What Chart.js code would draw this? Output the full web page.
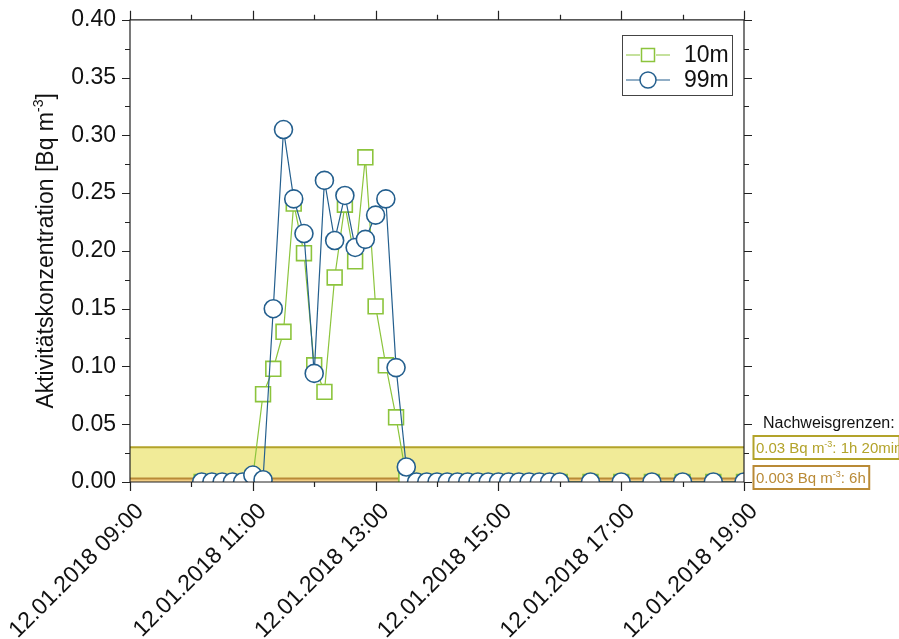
<!DOCTYPE html>
<html>
<head>
<meta charset="utf-8">
<script src="https://cdn.jsdelivr.net/npm/chart.js@4.4.1/dist/chart.umd.min.js"></script>
<style>
  html, body { margin: 0; padding: 0; background: #fff; }
</style>
</head>
<body>
<canvas id="chart" width="899" height="639"></canvas>
<script>
// measurement times on 12.01.2018, 10 min steps
const times = [
  '10:10', '10:20', '10:30', '10:40', '10:50',
  '11:00', '11:10', '11:20', '11:30', '11:40', '11:50',
  '12:00', '12:10', '12:20', '12:30', '12:40', '12:50',
  '13:00', '13:10', '13:20', '13:30', '13:40', '13:50',
  '14:00', '14:10', '14:20', '14:30', '14:40', '14:50',
  '15:00', '15:10', '15:20', '15:30', '15:40', '15:50',
  '16:00', '16:30', '17:00', '17:30', '18:00', '18:30', '19:00'
];
const conc10m = [
  0, 0, 0, 0, 0,
  0.004, 0.076, 0.098, 0.130, 0.241, 0.198,
  0.101, 0.078, 0.177, 0.240, 0.191, 0.281,
  0.152, 0.101, 0.056, 0.004, 0, 0,
  0, 0, 0, 0, 0, 0,
  0, 0, 0, 0, 0, 0,
  0, 0, 0, 0, 0, 0, 0
];
const conc99m = [
  0, 0, 0, 0, 0,
  0.006, 0.002, 0.150, 0.305, 0.245, 0.215,
  0.094, 0.261, 0.209, 0.248, 0.203, 0.210,
  0.231, 0.245, 0.099, 0.013, 0, 0,
  0, 0, 0, 0, 0, 0,
  0, 0, 0, 0, 0, 0,
  0, 0, 0, 0, 0, 0, 0
];
const seriesNames = ['10m', '99m'];
// detection limits (Nachweisgrenzen)
const limits = [0.03, 0.003];
const limitTexts = [['0.03 Bq m', '-3', ': 1h 20min'], ['0.003 Bq m', '-3', ': 6h']];

const FONT = '"Liberation Sans", Arial, sans-serif';
const GREEN = '#8cc43c';
const BLUE = '#245f8e';
const AXIS = '#222';

function toMin(t) {
  const [h, m] = t.split(':').map(Number);
  return (h - 9) * 60 + m;
}

// text with a small raised part: [base, sup, rest]
function drawSupText(ctx, parts, x, y, size) {
  ctx.font = size + 'px ' + FONT;
  ctx.fillText(parts[0], x, y);
  x += ctx.measureText(parts[0]).width;
  ctx.font = Math.round(size * 0.62) + 'px ' + FONT;
  ctx.fillText(parts[1], x, y - size * 0.42);
  x += ctx.measureText(parts[1]).width;
  ctx.font = size + 'px ' + FONT;
  ctx.fillText(parts[2], x, y);
}
function supTextWidth(ctx, parts, size) {
  ctx.font = size + 'px ' + FONT;
  let w = ctx.measureText(parts[0]).width + ctx.measureText(parts[2]).width;
  ctx.font = Math.round(size * 0.62) + 'px ' + FONT;
  return w + ctx.measureText(parts[1]).width;
}

const bandsPlugin = {
  id: 'bands',
  beforeDatasetsDraw(chart) {
    const {ctx, chartArea: a, scales: {y}} = chart;
    const fills = ['#f1eb98', '#f2cd84'];
    const strokes = ['#b3a32a', '#b98a36'];
    ctx.save();
    limits.forEach((v, i) => {
      const py = y.getPixelForValue(v);
      ctx.fillStyle = fills[i];
      ctx.fillRect(a.left, py, a.right - a.left, y.getPixelForValue(0) - py);
      ctx.strokeStyle = strokes[i];
      ctx.lineWidth = 2;
      ctx.beginPath();
      ctx.moveTo(a.left, py);
      ctx.lineTo(a.right, py);
      ctx.stroke();
    });
    ctx.restore();
  }
};

const framePlugin = {
  id: 'frame',
  afterDraw(chart) {
    const {ctx, chartArea: a, scales: {x, y}} = chart;
    ctx.save();
    ctx.strokeStyle = AXIS;
    ctx.lineWidth = 1.2;
    ctx.beginPath();
    ctx.rect(a.left, a.top, a.right - a.left, a.bottom - a.top);
    // y ticks every 0.025, left and right, outward
    for (let k = 0; k <= 16; k++) {
      const py = Math.round(y.getPixelForValue(k * 0.025)) + 0.5;
      const len = k % 2 === 0 ? 8 : 5;
      ctx.moveTo(a.left, py); ctx.lineTo(a.left - len, py);
      ctx.moveTo(a.right, py); ctx.lineTo(a.right + len, py);
    }
    // x ticks every hour, bottom and top, outward
    for (let k = 0; k <= 10; k++) {
      const px = Math.round(x.getPixelForValue(k * 60)) + 0.5;
      const len = k % 2 === 0 ? 9 : 5;
      ctx.moveTo(px, a.bottom); ctx.lineTo(px, a.bottom + len);
      ctx.moveTo(px, a.top); ctx.lineTo(px, a.top - len);
    }
    ctx.stroke();

    // y axis title
    ctx.fillStyle = '#111';
    ctx.textBaseline = 'alphabetic';
    const title = ['Aktivitätskonzentration [Bq m', '-3', ']'];
    const tw = supTextWidth(ctx, title, 23);
    ctx.translate(53, (a.top + a.bottom) / 2);
    ctx.rotate(-Math.PI / 2);
    drawSupText(ctx, title, -tw / 2, 0, 23);
    ctx.setTransform(1, 0, 0, 1, 0, 0);

    // legend
    ctx.strokeStyle = '#444';
    ctx.lineWidth = 1;
    ctx.strokeRect(622.5, 35.5, 110, 60);
    ctx.font = '23px ' + FONT;
    const rows = [[GREEN, 'rect', 55], [BLUE, 'circle', 80]];
    rows.forEach(([col, shape, ry], i) => {
      ctx.strokeStyle = col;
      ctx.lineWidth = 1.2;
      ctx.beginPath();
      ctx.moveTo(626, ry); ctx.lineTo(640, ry);
      ctx.moveTo(656, ry); ctx.lineTo(670, ry);
      ctx.stroke();
      ctx.lineWidth = 1.5;
      ctx.fillStyle = '#fff';
      ctx.beginPath();
      if (shape === 'rect') ctx.rect(641.5, ry - 6.5, 13, 13);
      else ctx.arc(648, ry, 8, 0, Math.PI * 2);
      ctx.fill(); ctx.stroke();
      ctx.fillStyle = '#111';
      ctx.textBaseline = 'middle';
      ctx.fillText(seriesNames[i], 684, ry + 1);
    });

    // detection limit labels
    ctx.textBaseline = 'alphabetic';
    ctx.font = '16px ' + FONT;
    ctx.fillStyle = '#111';
    ctx.fillText('Nachweisgrenzen:', 763, 428);
    const boxes = [[436, 459, '#b3a32a', '#b3a32a'], [466, 489, '#b98a36', '#b98a36']];
    boxes.forEach(([t, b, stroke, txt], i) => {
      const w = supTextWidth(ctx, limitTexts[i], 15);
      ctx.strokeStyle = stroke;
      ctx.lineWidth = 2;
      ctx.strokeRect(753.5, t, Math.min(w + 6, 146), b - t);
      ctx.fillStyle = txt;
      drawSupText(ctx, limitTexts[i], 756, b - 6, 15);
    });
    ctx.restore();
  }
};

const ctx = document.getElementById('chart').getContext('2d');
new Chart(ctx, {
  type: 'line',
  data: {
    datasets: [
      {
        label: seriesNames[0],
        data: times.map((t, i) => ({x: toMin(t), y: conc10m[i]})),
        borderColor: GREEN,
        borderWidth: 1.2,
        pointStyle: 'rect',
        pointRadius: 10.5,
        pointBorderWidth: 1.6,
        pointBackgroundColor: '#fff',
        pointBorderColor: GREEN,
        tension: 0,
        order: 2
      },
      {
        label: seriesNames[1],
        data: times.map((t, i) => ({x: toMin(t), y: conc99m[i]})),
        borderColor: BLUE,
        borderWidth: 1.2,
        pointStyle: 'circle',
        pointRadius: 9,
        pointBorderWidth: 1.6,
        pointBackgroundColor: '#fff',
        pointBorderColor: BLUE,
        tension: 0,
        order: 1
      }
    ]
  },
  options: {
    responsive: false,
    animation: false,
    devicePixelRatio: 1,
    layout: {padding: {top: 19, right: 155, left: 0, bottom: 0}},
    plugins: {legend: {display: false}, tooltip: {enabled: false}},
    scales: {
      x: {
        type: 'linear',
        min: 0,
        max: 600,
        grid: {display: true, drawOnChartArea: false, color: 'rgba(0,0,0,0)', tickLength: 9},
        border: {display: false},
        ticks: {
          stepSize: 120,
          autoSkip: false,
          minRotation: 45,
          maxRotation: 45,
          padding: 7,
          labelOffset: 10,
          color: '#111',
          font: {family: FONT, size: 23},
          callback: v => {
            const h = 9 + v / 60;
            return '12.01.2018 ' + String(h).padStart(2, '0') + ':00';
          }
        },
        afterFit: s => { s.height = 157; s.paddingLeft = 0; s.paddingRight = 0; }
      },
      y: {
        min: 0,
        max: 0.4,
        grid: {display: true, drawOnChartArea: false, color: 'rgba(0,0,0,0)', tickLength: 8},
        border: {display: false},
        ticks: {
          stepSize: 0.05,
          padding: 6,
          color: '#111',
          font: {family: FONT, size: 23},
          callback: v => v.toFixed(2)
        },
        afterFit: s => { s.width = 130; }
      }
    }
  },
  plugins: [bandsPlugin, framePlugin]
});
</script>
</body>
</html>
